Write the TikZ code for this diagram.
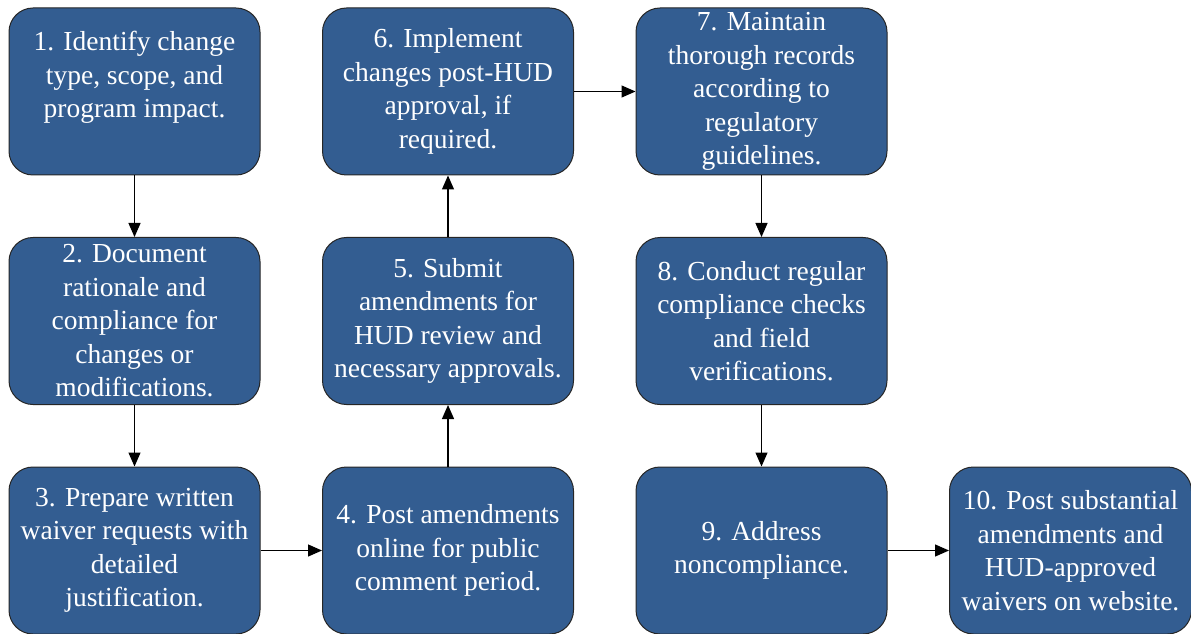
\documentclass[tikz,border=0pt]{standalone}
\usepackage{fontspec}
\setmainfont{Liberation Serif}
\usetikzlibrary{positioning,arrows.meta}
\definecolor{hudblue}{RGB}{51,93,145}
\begin{document}
\begin{tikzpicture}[x=1pt,y=1pt,
  node distance=61.5pt,
  stepbox/.style={draw=black!85,line width=1pt,fill=hudblue,text=white,
    rounded corners=24pt,align=center,inner sep=2pt,
    minimum width=251pt,minimum height=167pt,
    font=\fontsize{27.5}{33.5}\selectfont},
  flow/.style={-{Triangle[length=14pt,width=12pt]},line width=1.2pt}]
\useasboundingbox (0,0) rectangle (1191,633);
% first column
\node[stepbox] (s1) at (134.5,541.5) {1. Identify change\\type, scope, and\\program impact.\\\mbox{}};
\node[stepbox,below=of s1] (s2) {2. Document\\rationale and\\compliance for\\changes or\\modifications.};
\node[stepbox,below=of s2] (s3) {3. Prepare written\\waiver requests with\\detailed\\justification.};
% second column
\node[stepbox,right=of s3] (s4) {4. Post amendments\\online for public\\comment period.};
\node[stepbox,above=of s4] (s5) {5. Submit\\amendments for\\HUD review and\\necessary approvals.};
\node[stepbox,above=of s5] (s6) {6. Implement\\changes post-HUD\\approval, if\\required.};
% third column
\node[stepbox,right=of s6] (s7) {7. Maintain\\thorough records\\according to\\regulatory\\guidelines.};
\node[stepbox,below=of s7] (s8) {8. Conduct regular\\compliance checks\\and field\\verifications.};
\node[stepbox,below=of s8] (s9) {9. Address\\noncompliance.};
\node[stepbox,right=of s9,minimum width=242pt] (s10) {10. Post substantial\\amendments and\\HUD-approved\\waivers on website.};
% connectors
\draw[flow] (s1) -- (s2);
\draw[flow] (s2) -- (s3);
\draw[flow] (s3) -- (s4);
\draw[flow] (s4) -- (s5);
\draw[flow] (s5) -- (s6);
\draw[flow] (s6) -- (s7);
\draw[flow] (s7) -- (s8);
\draw[flow] (s8) -- (s9);
\draw[flow] (s9) -- (s10);
\end{tikzpicture}
\end{document}
